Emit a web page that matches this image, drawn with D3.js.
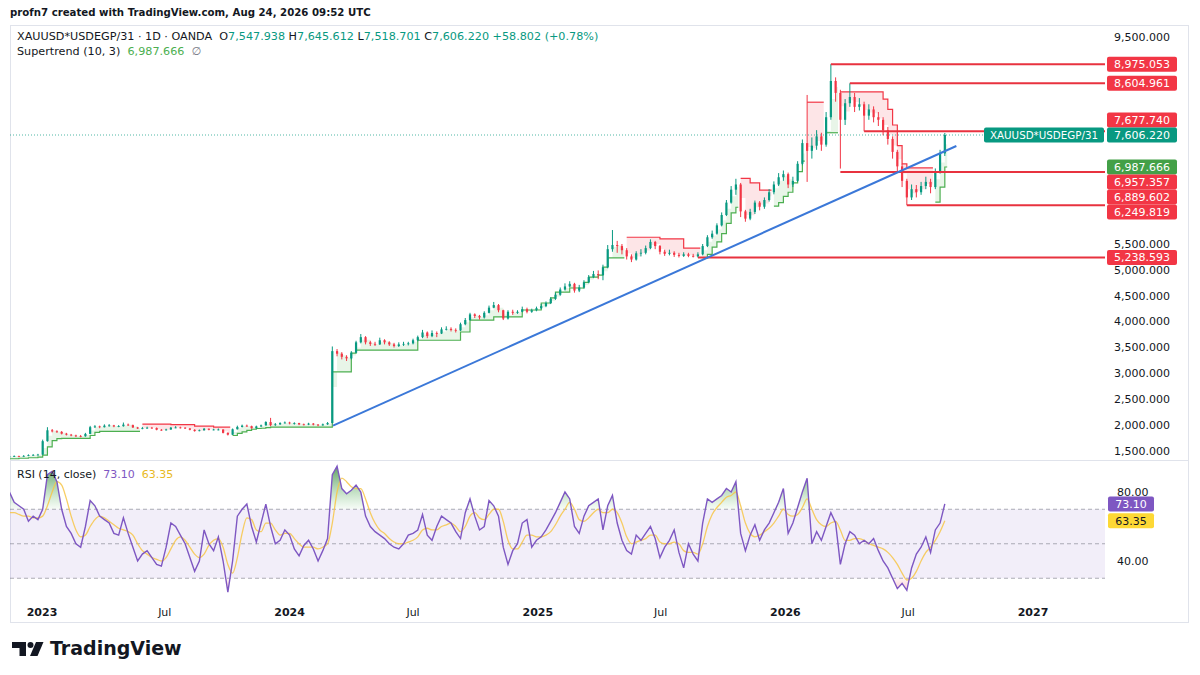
<!DOCTYPE html>
<html>
<head>
<meta charset="utf-8">
<script src="https://cdn.jsdelivr.net/npm/d3@7"></script>
<style>
  body { margin: 0; background: #fff; }
  svg { display: block; }
  text { font-family: "DejaVu Sans", sans-serif; }
</style>
</head>
<body>
<svg id="chart" width="1200" height="675"></svg>
<script>
// Weekly candles (open = previous week's close)
const firstWeek = "2022-11-14";
const firstOpen = 1390;
const weekClose = [
  1395,1400,1395,1405,1420,1425,1430,1690,1900,1880,
  1870,1835,1815,1800,1790,1785,1830,1960,1975,1960,
  1990,1995,1975,1980,2010,2000,1955,1935,1940,1950,
  1945,1910,1905,1915,1950,1955,1950,1935,1910,1885,
  1900,1930,1910,1915,1915,1850,1815,1920,1965,1990,
  1980,1940,1975,1995,2060,2000,2015,2040,2050,2035,
  2040,2015,2010,2030,2010,1995,2015,2040,3430,3380,
  3320,3290,3400,3600,3700,3600,3570,3560,3640,3600,
  3560,3530,3560,3570,3580,3640,3700,3790,3720,3780,
  3770,3850,3860,3840,3830,3950,4030,4140,4110,4080,
  4170,4270,4320,4220,4060,4190,4170,4190,4240,4190,
  4220,4260,4300,4360,4440,4520,4620,4680,4730,4600,
  4660,4760,4860,4920,4900,5050,5400,5480,5460,5380,
  5260,5200,5320,5330,5420,5540,5460,5350,5310,5330,
  5290,5270,5300,5270,5260,5300,5460,5630,5700,5860,
  6060,6300,6550,6650,6130,5990,6120,6300,6220,6350,
  6500,6650,6790,6850,6650,6720,7050,7450,7300,7400,
  7580,7420,7950,8650,8420,7900,8220,8340,8150,8200,
  7980,8100,7950,7900,7700,7530,7280,7000,6720,6400,
  6560,6500,6620,6700,6600,6900,7250,7606.22
];
const weekHigh = [
  1410,1415,1410,1420,1435,1440,1445,1720,1960,1925,
  1900,1885,1850,1830,1815,1810,1850,1985,2000,1990,
  2015,2020,2005,2000,2050,2030,2010,1965,1965,1970,
  1965,1955,1925,1930,1965,1980,1970,1960,1945,1920,
  1915,1945,1935,1930,1935,1920,1860,1935,1990,2010,
  2010,1990,1990,2010,2075,2140,2040,2055,2070,2065,
  2055,2045,2030,2045,2040,2020,2030,2060,3520,3470,
  3410,3350,3430,3630,3760,3720,3630,3610,3690,3660,
  3620,3590,3600,3610,3610,3670,3730,3840,3810,3830,
  3810,3890,3910,3890,3870,3980,4070,4170,4160,4130,
  4200,4310,4380,4340,4230,4220,4230,4220,4290,4270,
  4250,4290,4340,4390,4470,4560,4660,4740,4780,4750,
  4710,4800,4900,4980,4990,5100,5480,5770,5560,5500,
  5420,5300,5360,5400,5470,5590,5560,5480,5390,5390,
  5360,5330,5340,5330,5310,5340,5500,5670,5760,5900,
  6110,6350,6620,6760,6680,6160,6180,6340,6330,6400,
  6560,6710,6870,6920,6880,6800,7100,7520,8380,7560,
  7700,7650,8050,8975.05,8720,8480,8300,8604.96,8420,8320,
  8250,8200,8160,8050,7950,7760,7580,7320,7050,6760,
  6650,6640,6700,6800,6760,6960,7320,7645.61
];
const weekLow = [
  1380,1385,1385,1390,1400,1410,1415,1425,1680,1860,
  1850,1820,1800,1785,1770,1765,1775,1825,1945,1940,
  1955,1970,1960,1960,1970,1985,1945,1925,1920,1930,
  1930,1900,1890,1895,1910,1940,1935,1925,1900,1875,
  1880,1895,1900,1900,1900,1840,1800,1810,1915,1955,
  1965,1930,1935,1965,1990,1980,1985,2005,2030,2015,
  2010,2000,1995,2000,1995,1980,1990,2005,2035,3330,
  3270,3240,3270,3390,3580,3560,3530,3530,3550,3560,
  3530,3500,3510,3530,3540,3560,3620,3680,3680,3700,
  3700,3760,3830,3810,3790,3820,3930,4020,4070,4040,
  4060,4160,4260,4180,4030,4040,4130,4150,4180,4160,
  4170,4200,4240,4280,4340,4420,4500,4600,4660,4560,
  4570,4640,4740,4840,4820,4800,5030,5350,5330,5300,
  5200,5150,5180,5260,5300,5400,5400,5300,5270,5280,
  5250,5240,5250,5245,5240,5238.59,5280,5440,5600,5680,
  5840,6040,6280,6450,6020,5930,5960,6080,6150,6180,
  6320,6460,6620,6720,6580,6600,6700,7020,6700,7150,
  7320,7300,7380,7900,8250,6957.36,7800,8150,8050,8080,
  7677.74,7900,7850,7780,7600,7420,7150,6880,6600,6249.82,
  6350,6400,6450,6560,6480,6560,6860,7200
];
// Supertrend (10, 3): [first week, level, 1 = up / -1 = down]
const trendSteps = [
  [0,1350,1],[2,1360,1],[4,1370,1],[6,1380,1],[7,1420,1],[8,1580,1],[9,1700,1],[10,1740,1],
  [11,1745,1],[17,1800,1],[18,1860,1],[19,1880,1],
  [28,2020,-1],[34,2010,-1],[39,1980,-1],[43,1960,-1],
  [47,1800,1],[48,1840,1],[49,1870,1],[50,1900,1],[51,1920,1],[52,1935,1],[53,1940,1],[54,1950,1],[55,1960,1],
  [68,3030,1],[72,3390,1],[73,3450,1],[86,3640,1],[95,3800,1],[97,4030,1],[102,4090,1],[108,4225,1],
  [112,4360,1],[114,4460,1],[115,4570,1],[118,4650,1],[121,4760,1],[122,4860,1],[124,4900,1],[125,5055,1],[126,5230,1],
  [130,5630,-1],[137,5600,-1],[142,5420,-1],
  [146,5230,1],[147,5300,1],[148,5440,1],[149,5540,1],[150,5700,1],[151,5900,1],[152,6100,1],[153,6210,1],
  [154,6770,-1],[156,6680,-1],[158,6540,-1],
  [161,6230,1],[162,6300,1],[163,6420,1],[164,6500,1],[165,6680,1],[166,6900,1],[167,7100,1],
  [168,8240,-1],
  [172,7650,1],
  [175,8440,-1],[184,8300,-1],[185,8100,-1],[186,7800,-1],[187,7400,-1],[188,7050,-1],[189,6970,-1],
  [195,6310,1],[196,6600,1],[197,6987.666,1]
];
// RSI (14, close) and its moving average, one reading per week
const rsiValues = [
  80,74,72,70,63,66,64,70,90,92,
  86,70,60,56,50,48,60,75,72,66,
  64,62,56,55,65,56,48,40,44,46,
  42,38,37,48,62,60,55,50,42,34,
  40,58,50,46,54,40,22,40,66,70,
  73,60,51,62,73,60,50,52,58,55,
  47,43,49,52,47,40,46,53,90,95,
  82,79,81,84,80,66,60,57,55,53,
  50,48,47,50,55,56,58,67,55,52,
  60,66,64,62,57,53,68,76,66,58,
  60,75,72,66,48,38,46,50,62,64,
  48,52,54,58,63,68,74,80,76,60,
  56,66,72,74,76,58,72,78,62,52,
  46,44,55,52,56,60,53,42,48,52,
  58,45,36,50,44,40,62,76,74,76,
  78,82,80,86,56,46,55,61,52,58,
  62,68,74,82,56,62,71,80,88,50,
  57,52,60,68,62,38,50,57,55,50,
  52,50,53,46,40,36,30,24,27,23,
  36,44,48,54,45,58,62,73.10
];
const rsiAverage = [
  68,68,67,66,66,65,65,66,72,80,
  86,84,76,66,58,54,55,60,64,66,
  65,63,61,59,58,57,55,50,46,44,
  42,41,40,42,47,52,54,52,48,44,
  42,44,49,52,53,48,38,33,42,56,
  65,64,58,57,62,62,58,55,56,56,
  53,50,48,48,48,47,48,50,62,80,
  88,86,83,82,82,76,68,62,58,56,
  53,51,50,50,51,52,54,58,59,58,
  58,60,61,62,60,57,60,66,68,65,
  64,67,70,70,63,52,47,47,51,55,
  55,54,54,55,57,61,66,70,74,70,
  64,63,65,68,70,68,68,70,68,62,
  54,50,51,52,53,55,55,51,50,50,
  51,50,46,45,45,44,50,60,67,71,
  74,77,78,80,72,62,56,54,55,57,
  59,62,66,70,67,66,67,71,76,70,
  64,61,60,62,63,58,52,52,53,53,
  52,50,49,48,47,45,42,38,33,29,
  30,34,40,45,48,52,57,63.35
];
// Horizontal rays drawn on the chart (null = only its scale label shows)
const levelValues = [8975.053, 8604.961, 7677.740, 6957.357, 6889.602, 6249.819, 5238.593];
const levelStartWeek = [173, 177, 180, null, 175, 189, 145];
// Blue trend line
const trendLineDates = ["2024-03-05", "2026-09-10"];
const trendLinePrices = [1990, 7393];
// Axis ticks
const priceTicks = [1500, 2000, 2500, 3000, 3500, 4000, 4500, 5000, 5500, 6000, 6500, 7000, 7500, 8000, 8500, 9000, 9500];
const rsiTicks = [40, 60, 80];
const rsiLevels = [70, 50, 30];
const timeTicks = ["2023-01-01","2023-07-01","2024-01-01","2024-07-01","2025-01-01","2025-07-01","2026-01-01","2026-07-01","2027-01-01"];
const timeTickLabels = ["2023","Jul","2024","Jul","2025","Jul","2026","Jul","2027"];
// Legend values
const symbolName = "XAUUSD*USDEGP/31";
const ohlcLetters = ["O", "H", "L", "C"];
const ohlcValues = [7547.938, 7645.612, 7518.701, 7606.220];
const dayChange = 58.802, dayChangePct = 0.78;
const lastPrice = 7606.220;
const supertrendLast = 6987.666;
const rsiLast = 73.10, rsiMaLast = 63.35;

// ---- layout ----
const paneLeft = 10, paneRight = 1105, frameRight = 1188;
const mainTop = 26, mainBottom = 460, rsiTop = 461, rsiBottom = 598, frameBottom = 623;
const COLORS = {
  text: "#131722", up: "#089981", down: "#F23645", stUp: "#4CAF50", stDown: "#F23645",
  level: "#E8323F", trend: "#3b78d8", rsi: "#7E57C2", rsiMa: "#F7C548", grid: "#e0e3eb"
};

const svg = d3.select("#chart");
const parse = d3.utcParse("%Y-%m-%d");
const fmtPrice = d3.format(",.3f");
const fmtRsi = d3.format(".2f");

const x = d3.scaleUtc().domain([parse("2023-01-01"), parse("2027-01-01")]).range([42, 1033]);
const y = d3.scaleLinear().domain([1500, 9500]).range([451, 37]);
const yR = d3.scaleLinear().domain([40, 80]).range([561, 492]);

const start = parse(firstWeek);
const weeks = weekClose.map((c, i) => ({
  i, date: d3.utcDay.offset(start, 7 * i),
  open: i === 0 ? firstOpen : weekClose[i - 1],
  high: weekHigh[i], low: weekLow[i], close: c,
  rsi: rsiValues[i], rsiMa: rsiAverage[i]
}));
let s = 0;
weeks.forEach(w => {
  while (s + 1 < trendSteps.length && trendSteps[s + 1][0] <= w.i) s++;
  w.st = trendSteps[s][1];
  w.dir = trendSteps[s][2];
  w.mid = (w.open + w.close) / 2;
});
const segments = [];
weeks.forEach(w => {
  const last = segments[segments.length - 1];
  if (last && last.dir === w.dir) last.pts.push(w);
  else segments.push({ dir: w.dir, pts: [w] });
});

const defs = svg.append("defs");
defs.append("clipPath").attr("id", "clipMain").append("rect")
  .attr("x", paneLeft).attr("y", mainTop).attr("width", paneRight - paneLeft).attr("height", mainBottom - mainTop);
defs.append("clipPath").attr("id", "clipRsi").append("rect")
  .attr("x", paneLeft).attr("y", rsiTop).attr("width", paneRight - paneLeft).attr("height", rsiBottom - rsiTop);
defs.append("clipPath").attr("id", "clipOver").append("rect")
  .attr("x", paneLeft).attr("y", rsiTop).attr("width", paneRight - paneLeft).attr("height", yR(70) - rsiTop);
defs.append("clipPath").attr("id", "clipUnder").append("rect")
  .attr("x", paneLeft).attr("y", yR(30)).attr("width", paneRight - paneLeft).attr("height", rsiBottom - yR(30));
const gOver = defs.append("linearGradient").attr("id", "gradOver").attr("gradientUnits", "userSpaceOnUse")
  .attr("x1", 0).attr("x2", 0).attr("y1", yR(100)).attr("y2", yR(70));
gOver.append("stop").attr("offset", "0%").attr("stop-color", "#2E7D32").attr("stop-opacity", 0.95);
gOver.append("stop").attr("offset", "100%").attr("stop-color", "#66BB6A").attr("stop-opacity", 0.05);
const gUnder = defs.append("linearGradient").attr("id", "gradUnder").attr("gradientUnits", "userSpaceOnUse")
  .attr("x1", 0).attr("x2", 0).attr("y1", yR(30)).attr("y2", yR(0));
gUnder.append("stop").attr("offset", "0%").attr("stop-color", "#F23645").attr("stop-opacity", 0.05);
gUnder.append("stop").attr("offset", "100%").attr("stop-color", "#F23645").attr("stop-opacity", 0.9);

// frame
svg.append("rect").attr("x", paneLeft + 0.5).attr("y", mainTop - 0.5)
  .attr("width", frameRight - paneLeft).attr("height", frameBottom - mainTop)
  .attr("fill", "none").attr("stroke", COLORS.grid);
svg.append("line").attr("x1", paneLeft).attr("x2", frameRight).attr("y1", mainBottom + 0.5).attr("y2", mainBottom + 0.5)
  .attr("stroke", COLORS.grid);

// ---- main pane ----
const main = svg.append("g").attr("clip-path", "url(#clipMain)");
const halfWeek = (x(weeks[1].date) - x(weeks[0].date)) / 2;

// supertrend fills and lines
segments.forEach(seg => {
  const pts = seg.pts.slice();
  const endPt = Object.assign({}, pts[pts.length - 1], { end: true });
  pts.push(endPt);
  const px = d => x(d.date) + (d.end ? halfWeek : 0);
  main.append("path").datum(pts)
    .attr("d", d3.area().curve(d3.curveStepAfter).x(px).y0(d => y(d.mid)).y1(d => y(d.st)))
    .attr("fill", seg.dir > 0 ? "rgba(76,175,80,0.13)" : "rgba(242,54,69,0.13)");
  main.append("path").datum(pts)
    .attr("d", d3.line().curve(d3.curveStepAfter).x(px).y(d => y(d.st)))
    .attr("fill", "none").attr("stroke", seg.dir > 0 ? COLORS.stUp : COLORS.stDown).attr("stroke-width", 1.2);
});

// candles
const bodyW = 2.2;
const candle = main.append("g").selectAll("g").data(weeks).join("g")
  .attr("stroke", d => d.close >= d.open ? COLORS.up : COLORS.down)
  .attr("fill", d => d.close >= d.open ? COLORS.up : COLORS.down);
candle.append("line")
  .attr("x1", d => x(d.date)).attr("x2", d => x(d.date))
  .attr("y1", d => y(d.high)).attr("y2", d => y(d.low)).attr("stroke-width", 1);
candle.append("rect")
  .attr("x", d => x(d.date) - bodyW / 2).attr("width", bodyW)
  .attr("y", d => y(Math.max(d.open, d.close)))
  .attr("height", d => Math.max(0.8, Math.abs(y(d.open) - y(d.close))))
  .attr("stroke", "none");

// current price dotted line
main.append("line").attr("x1", paneLeft).attr("x2", paneRight)
  .attr("y1", y(lastPrice)).attr("y2", y(lastPrice))
  .attr("stroke", COLORS.up).attr("stroke-dasharray", "1,2").attr("opacity", 0.7);

// horizontal rays
levelValues.forEach((v, k) => {
  if (levelStartWeek[k] == null) return;
  main.append("line")
    .attr("x1", x(weeks[levelStartWeek[k]].date)).attr("x2", paneRight)
    .attr("y1", y(v)).attr("y2", y(v))
    .attr("stroke", COLORS.level).attr("stroke-width", 2);
});

// trend line
main.append("line")
  .attr("x1", x(parse(trendLineDates[0]))).attr("y1", y(trendLinePrices[0]))
  .attr("x2", x(parse(trendLineDates[1]))).attr("y2", y(trendLinePrices[1]))
  .attr("stroke", COLORS.trend).attr("stroke-width", 2);

// ---- RSI pane ----
const rsiG = svg.append("g").attr("clip-path", "url(#clipRsi)");
rsiG.append("rect").attr("x", paneLeft).attr("width", paneRight - paneLeft)
  .attr("y", yR(70)).attr("height", yR(30) - yR(70)).attr("fill", "rgba(126,87,194,0.1)");
rsiLevels.forEach(v => {
  rsiG.append("line").attr("x1", paneLeft).attr("x2", paneRight).attr("y1", yR(v)).attr("y2", yR(v))
    .attr("stroke", "#787B86").attr("stroke-opacity", 0.6).attr("stroke-dasharray", "4,3");
});
const rx = d => x(d.date);
rsiG.append("path").datum(weeks).attr("clip-path", "url(#clipOver)")
  .attr("d", d3.area().x(rx).y0(yR(70)).y1(d => yR(d.rsi))).attr("fill", "url(#gradOver)");
rsiG.append("path").datum(weeks).attr("clip-path", "url(#clipUnder)")
  .attr("d", d3.area().x(rx).y0(yR(30)).y1(d => yR(d.rsi))).attr("fill", "url(#gradUnder)");
rsiG.append("path").datum(weeks)
  .attr("d", d3.line().curve(d3.curveMonotoneX).x(rx).y(d => yR(d.rsiMa)))
  .attr("fill", "none").attr("stroke", COLORS.rsiMa).attr("stroke-width", 1.3).attr("opacity", 0.85);
rsiG.append("path").datum(weeks)
  .attr("d", d3.line().x(rx).y(d => yR(d.rsi)))
  .attr("fill", "none").attr("stroke", COLORS.rsi).attr("stroke-width", 1.4);

// ---- price labels on the scale (pushed apart around the last price) ----
const labelH = 15;
const priceLabels = levelValues.map(v => ({ value: v, fill: COLORS.down, text: "#fff" }));
priceLabels.push({ value: supertrendLast, fill: "#43A047", text: "#fff" });
const anchorLabel = { value: lastPrice, fill: COLORS.up, text: "#fff" };
const above = priceLabels.filter(d => d.value > lastPrice).sort((a, b) => a.value - b.value);
const below = priceLabels.filter(d => d.value < lastPrice).sort((a, b) => b.value - a.value);
anchorLabel.cy = y(lastPrice);
let prev = anchorLabel.cy;
above.forEach(d => { d.cy = Math.min(y(d.value), prev - labelH); prev = d.cy; });
prev = anchorLabel.cy;
below.forEach(d => { d.cy = Math.max(y(d.value), prev + labelH); prev = d.cy; });
const allLabels = above.concat(below, [anchorLabel]);

const rsiLabels = [
  { value: rsiLast, fill: COLORS.rsi, text: "#fff" },
  { value: rsiMaLast, fill: "#FDD835", text: COLORS.text }
];
rsiLabels.forEach(d => { d.cy = yR(d.value); });

// ---- axes (ticks mostly hidden behind a label box are skipped) ----
const axisX = 1114;
const free = (cy, boxes) => boxes.every(b => Math.abs(b.cy - cy) > 10);
svg.append("g").selectAll("text").data(priceTicks.filter(v => free(y(v), allLabels))).join("text")
  .attr("x", axisX).attr("y", d => y(d)).attr("dy", "0.35em")
  .attr("font-size", 11).attr("fill", COLORS.text).text(d => fmtPrice(d));
svg.append("g").selectAll("text").data(rsiTicks.filter(v => free(yR(v), rsiLabels))).join("text")
  .attr("x", axisX + 3).attr("y", d => yR(d)).attr("dy", "0.35em")
  .attr("font-size", 11).attr("fill", COLORS.text).text(d => fmtRsi(d));
svg.append("g").selectAll("text").data(timeTicks).join("text")
  .attr("x", d => x(parse(d))).attr("y", 616).attr("text-anchor", "middle")
  .attr("font-size", 11).attr("fill", COLORS.text)
  .attr("font-weight", (d, k) => timeTickLabels[k] === "Jul" ? "normal" : "bold")
  .text((d, k) => timeTickLabels[k]);

const lab = svg.append("g").selectAll("g").data(allLabels).join("g")
  .attr("transform", d => `translate(1107,${d.cy})`);
lab.append("rect").attr("x", 0).attr("y", -labelH / 2).attr("width", 70).attr("height", labelH)
  .attr("rx", 2).attr("fill", d => d.fill);
lab.append("text").attr("x", 35).attr("dy", "0.36em").attr("text-anchor", "middle")
  .attr("font-size", 11).attr("fill", d => d.text).text(d => fmtPrice(d.value));

// symbol name tag next to the last price
const tag = svg.append("g").attr("transform", `translate(984,${y(lastPrice)})`);
tag.append("rect").attr("x", 0).attr("y", -labelH / 2).attr("width", 120).attr("height", labelH)
  .attr("rx", 2).attr("fill", COLORS.up);
tag.append("text").attr("x", 60).attr("dy", "0.36em").attr("text-anchor", "middle")
  .attr("font-size", 10.3).attr("fill", "#fff").text(symbolName);

const rl = svg.append("g").selectAll("g").data(rsiLabels).join("g")
  .attr("transform", d => `translate(1108,${d.cy})`);
rl.append("rect").attr("y", -labelH / 2).attr("width", 46).attr("height", labelH).attr("rx", 2)
  .attr("fill", d => d.fill);
rl.append("text").attr("x", 23).attr("dy", "0.36em").attr("text-anchor", "middle")
  .attr("font-size", 11).attr("fill", d => d.text).text(d => fmtRsi(d.value));

// ---- legends ----
svg.append("text").attr("x", 10).attr("y", 16).attr("font-size", 10.2).attr("font-weight", "bold")
  .attr("fill", COLORS.text).text("profn7 created with TradingView.com, Aug 24, 2026 09:52 UTC");

const l1 = svg.append("text").attr("x", 17).attr("y", 40).attr("font-size", 11.2).attr("fill", COLORS.text);
l1.append("tspan").text(symbolName + " · 1D · OANDA\u00a0\u00a0");
ohlcLetters.forEach((k, j) => {
  l1.append("tspan").text((j ? "\u00a0" : "") + k);
  l1.append("tspan").attr("fill", COLORS.up).text(fmtPrice(ohlcValues[j]));
});
l1.append("tspan").attr("fill", COLORS.up)
  .text(`\u00a0+${fmtPrice(dayChange)} (+${d3.format(".2f")(dayChangePct)}%)`);

const l2 = svg.append("text").attr("x", 17).attr("y", 55).attr("font-size", 11.2).attr("fill", COLORS.text);
l2.append("tspan").text("Supertrend (10, 3)\u00a0\u00a0");
l2.append("tspan").attr("fill", COLORS.stUp).text(fmtPrice(supertrendLast));
l2.append("tspan").attr("fill", "#787B86").text("\u00a0\u00a0∅");

const l3 = svg.append("text").attr("x", 17).attr("y", 478).attr("font-size", 11).attr("fill", COLORS.text);
l3.append("tspan").text("RSI (14, close)\u00a0\u00a0");
l3.append("tspan").attr("fill", COLORS.rsi).text(fmtRsi(rsiLast));
l3.append("tspan").attr("fill", "#E8B923").text("\u00a0\u00a0" + fmtRsi(rsiMaLast));

// ---- TradingView mark ----
const logo = svg.append("g").attr("fill", COLORS.text);
logo.append("path").attr("d", "M12,642 H26 V656 H19.5 V648 H12 Z");
logo.append("circle").attr("cx", 30.5).attr("cy", 645).attr("r", 3);
logo.append("path").attr("d", "M36,642 H43.5 L37.5,656 H30 Z");
svg.append("text").attr("x", 50).attr("y", 655).attr("font-size", 19).attr("font-weight", 600)
  .attr("font-family", "Inter, sans-serif").attr("fill", COLORS.text).text("TradingView");
</script>
</body>
</html>
